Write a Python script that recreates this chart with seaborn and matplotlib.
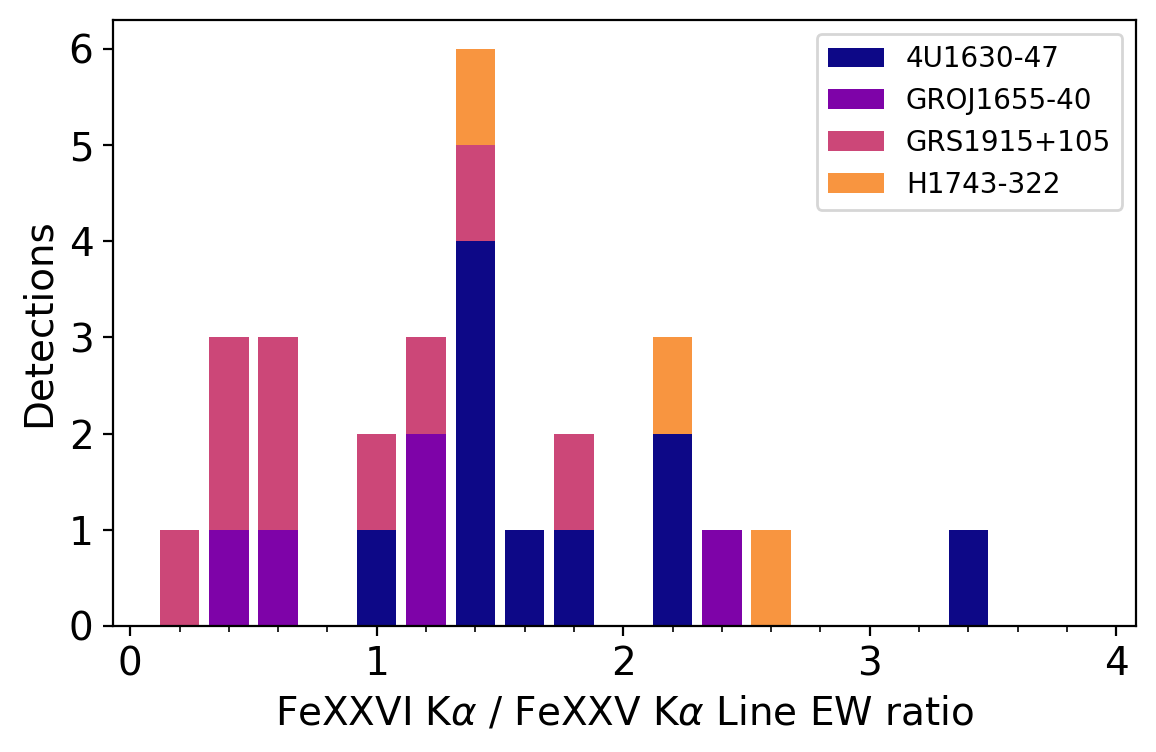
import pandas as pd
import seaborn as sns
import matplotlib.pyplot as plt
import matplotlib.colors as mcolors
import numpy as np
from matplotlib.patches import Patch

# bin centres of the EW ratio histogram (bin width 0.2)
centres = [0.2, 0.4, 0.6, 1.0, 1.2, 1.4, 1.6, 1.8, 2.2, 2.4, 2.6, 3.4]

# detections per source in each bin
n_4u1630 = [0, 0, 0, 1, 0, 4, 1, 1, 2, 0, 0, 1]
n_groj1655 = [0, 1, 1, 0, 2, 0, 0, 0, 0, 1, 0, 0]
n_grs1915 = [1, 2, 2, 1, 1, 1, 0, 1, 0, 0, 0, 0]
n_h1743 = [0, 0, 0, 0, 0, 1, 0, 0, 1, 0, 1, 0]

sources = ['4U1630-47', 'GROJ1655-40', 'GRS1915+105', 'H1743-322']
counts = [n_4u1630, n_groj1655, n_grs1915, n_h1743]

rows = []
for src, cnt in zip(sources, counts):
    for c, n in zip(centres, cnt):
        if n > 0:
            rows.append({'ratio': c, 'source': src, 'n': n})
df = pd.DataFrame(rows)

colors = [mcolors.to_hex(plt.cm.plasma(v)) for v in [0.0, 0.25, 0.5, 0.75]]
pal = dict(zip(sources, colors))

fig = plt.figure(figsize=(5.78, 3.76), dpi=200)
ax = fig.add_axes([0.0977, 0.1676, 0.885, 0.8058])

bins = [round(0.1 + 0.2 * i, 2) for i in range(18)]
sns.histplot(data=df, x='ratio', weights='n', hue='source',
             hue_order=sources[::-1], palette=pal, bins=bins,
             multiple='stack', shrink=0.8, linewidth=0, alpha=1,
             legend=False, ax=ax)

handles = [Patch(facecolor=pal[s], label=s) for s in sources]
ax.legend(handles=handles, loc='upper right', fontsize=10)

ax.set_xlim(-0.07, 4.08)
ax.set_ylim(0, 6.3)
ax.set_xticks([0, 1, 2, 3, 4])
ax.set_xticks(np.arange(0, 4.01, 0.2), minor=True)
ax.set_yticks(range(7))
ax.tick_params(axis='both', labelsize=14)
ax.set_xlabel(r'FeXXVI K$\alpha$ / FeXXV K$\alpha$ Line EW ratio', fontsize=14)
ax.set_ylabel('Detections', fontsize=14)

fig.savefig('out.png', dpi=200)
